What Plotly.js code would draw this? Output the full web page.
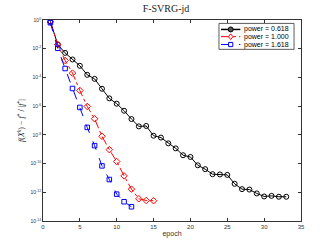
<!DOCTYPE html>
<html><head><meta charset="utf-8">
<script src="https://cdn.plot.ly/plotly-3.0.1.min.js"></script>
<style>html,body{margin:0;padding:0;background:#fff;}</style>
</head><body><div id="chart" style="width:332px;height:249px;"></div>
<script>
const epochBlack = [1,2,3,4,5,6,7,8,9,10,11,12,13,14,15,16,17,18,19,20,21,22,23,24,25,26,27,28,29,30,31,32,33];
const logBlack = [-0.09,-1.71,-2.29,-2.75,-3.19,-3.82,-4.10,-4.79,-5.46,-5.83,-6.32,-6.90,-7.41,-7.38,-8.06,-8.19,-8.59,-8.94,-9.42,-9.54,-10.12,-10.39,-10.74,-10.76,-10.79,-11.41,-11.78,-11.81,-12.08,-12.29,-12.25,-12.31,-12.31];
const epochRed = [1,2,3,4,5,6,7,8,9,10,11,12,13,14,15];
const logRed = [-0.14,-1.71,-2.82,-3.70,-4.91,-6.02,-6.88,-8.10,-9.03,-9.86,-10.86,-11.78,-12.45,-12.57,-12.59];
const epochBlue = [1,2,3,4,5,6,7,8,9,10,11,12];
const logBlue = [-0.19,-1.97,-3.38,-4.77,-6.09,-7.48,-8.75,-10.16,-11.11,-12.13,-12.66,-13.01];
const seriesNames = ["power = 0.618","power = 1.000","power = 1.618"];
const seriesColors = ['#000000', '#ff0000', '#0000ff'];
const seriesDash = ['solid', 'dashdot', 'dash'];
const seriesSymbols = ['circle-open', 'diamond-open', 'square-open'];
const yTickExp = [0,-2,-4,-6,-8,-10,-12,-14];
const xTicks = [0,5,10,15,20,25,30,35];

const toVal = a => a.map(v => Math.pow(10, v));
const xs = [epochBlack, epochRed, epochBlue];
const ys = [logBlack, logRed, logBlue];
const traces = xs.map((x, i) => ({
  x: x, y: toVal(ys[i]), name: seriesNames[i], mode: 'lines+markers', showlegend: false,
  line: {color: seriesColors[i], width: 1, dash: seriesDash[i]},
  marker: {symbol: seriesSymbols[i], size: i === 2 ? 4.5 : 5, color: seriesColors[i], line: {width: 1}}
}));

// custom compact legend (paper coords)
const lg = {x0: 0.682, x1: 0.973, y0: 0.854, y1: 0.983};
const rowY = [0.953, 0.917, 0.878];
const lineX0 = 0.69, lineX1 = 0.765, mkX = 0.7275;
const shapes = [{type: 'rect', xref: 'paper', yref: 'paper', x0: lg.x0, x1: lg.x1, y0: lg.y0, y1: lg.y1,
  line: {color: '#333', width: 0.8}, fillcolor: '#fff', layer: 'above'}];
const annotations = [];
const markerPaths = [
  null,
  'M0,-2.8 L2.3,0 L0,2.8 L-2.3,0 Z',
  'M-2.1,-2.1 L2.1,-2.1 L2.1,2.1 L-2.1,2.1 Z'
];
rowY.forEach((yy, i) => {
  shapes.push({type: 'line', xref: 'paper', yref: 'paper', x0: lineX0, x1: lineX1, y0: yy, y1: yy,
    line: {color: seriesColors[i], width: i === 0 ? 1.5 : 1, dash: seriesDash[i]}, layer: 'above'});
  if (i === 0) {
    shapes.push({type: 'circle', xref: 'paper', yref: 'paper', xsizemode: 'pixel', ysizemode: 'pixel',
      xanchor: mkX, yanchor: yy, x0: -2.5, x1: 2.5, y0: -2.5, y1: 2.5, fillcolor: '#555',
      line: {color: '#000', width: 1}, layer: 'above'});
  } else {
    shapes.push({type: 'path', xref: 'paper', yref: 'paper', xsizemode: 'pixel', ysizemode: 'pixel',
      xanchor: mkX, yanchor: yy, path: markerPaths[i], fillcolor: '#fff',
      line: {color: seriesColors[i], width: 1}, layer: 'above'});
  }
  annotations.push({xref: 'paper', yref: 'paper', x: 0.77, y: yy, xanchor: 'left', yanchor: 'middle',
    text: seriesNames[i], showarrow: false, font: {family: 'Liberation Sans, Arial', size: 7, color: '#000'}});
});

const layout = {
  width: 332, height: 249,
  margin: {l: 43, r: 31, t: 19.5, b: 28, pad: 0},
  paper_bgcolor: '#fff', plot_bgcolor: '#fff',
  showlegend: false,
  title: {text: 'F-SVRG-jd', font: {family: 'Liberation Serif, serif', size: 10, color: '#222'}, x: 0.5, xanchor: 'center', y: 0.965, yanchor: 'middle'},
  xaxis: {range: [0, 35], tickvals: xTicks, ticktext: xTicks.map(String), ticks: 'inside', ticklen: 3, tickwidth: 0.6, tickcolor: '#333',
    showline: true, linecolor: '#333', linewidth: 0.8, mirror: 'ticks', showgrid: false, zeroline: false,
    tickfont: {family: 'Liberation Sans, Arial', size: 6, color: '#333'},
    title: {text: 'epoch', font: {family: 'Liberation Sans, Arial', size: 7, color: '#333'}, standoff: 2}},
  yaxis: {type: 'log', range: [-14, 0], tickvals: yTickExp.map(e => Math.pow(10, e)), ticktext: yTickExp.map(e => '10<sup>' + e + '</sup>'),
    ticks: 'inside', ticklen: 3, tickwidth: 0.6, tickcolor: '#333',
    showline: true, linecolor: '#333', linewidth: 0.8, mirror: 'ticks', showgrid: false, zeroline: false,
    tickfont: {family: 'Liberation Sans, Arial', size: 5, color: '#333'},
    title: {text: '<i>f</i>(<i>X<sup>k</sup></i>) − <i>f</i><sup>*</sup> / |<i>f</i><sup>*</sup>|', font: {family: 'Liberation Serif, serif', size: 8, color: '#222'}, standoff: 4}},
  shapes: shapes,
  annotations: annotations
};
Plotly.newPlot('chart', traces, layout, {displayModeBar: false});
</script></body></html>
